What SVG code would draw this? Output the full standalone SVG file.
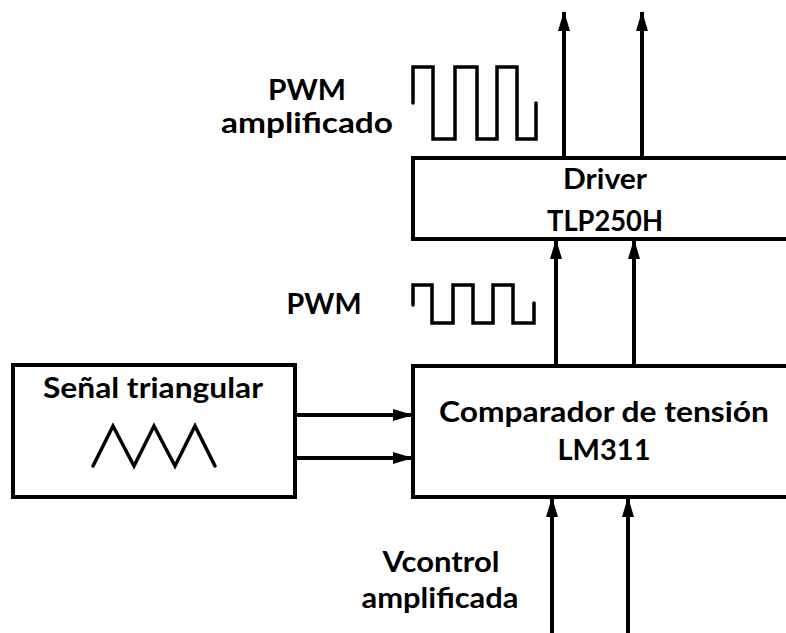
<svg xmlns="http://www.w3.org/2000/svg" width="786" height="633" viewBox="0 0 786 633">
<defs>
<marker id="ah" markerUnits="userSpaceOnUse" markerWidth="20" markerHeight="12" refX="19" refY="6" orient="auto">
<path d="M0,0 L20,6 L0,12 z" fill="#000"/>
</marker>
</defs>
<style>
.box{fill:#fff;stroke:#000;stroke-width:4}
.t{font-family:Lato,"Open Sans","Liberation Sans",sans-serif;font-weight:bold;font-size:29px;fill:#000;text-anchor:middle}
.w{fill:none;stroke:#000;stroke-width:3.5;stroke-linejoin:miter;stroke-linecap:round}
.c{fill:none;stroke:#000;stroke-width:4;marker-end:url(#ah)}
</style>
<rect width="786" height="633" fill="#fff"/>
<g id="driver">
<rect class="box" x="413" y="158" width="390" height="81"/>
<text class="t" x="605" y="189" textLength="84" lengthAdjust="spacingAndGlyphs">Driver</text>
<text class="t" x="605" y="231" textLength="116" lengthAdjust="spacingAndGlyphs">TLP250H</text>
</g>
<g id="comparador">
<rect class="box" x="413" y="366" width="390" height="131"/>
<text class="t" x="604" y="422" textLength="330" lengthAdjust="spacingAndGlyphs">Comparador de tensión</text>
<text class="t" x="604" y="460" textLength="93" lengthAdjust="spacingAndGlyphs">LM311</text>
</g>
<g id="triangular">
<rect class="box" x="13" y="365" width="282" height="132"/>
<text class="t" x="153" y="398" textLength="220" lengthAdjust="spacingAndGlyphs">Señal triangular</text>
<polyline class="w" points="93,466 113,426 134,466 154,426 175,466 195,426 215,466"/>
</g>
<g id="pwm-amplificado">
<text class="t" x="307" y="100" textLength="78" lengthAdjust="spacingAndGlyphs">PWM</text>
<text class="t" x="307" y="133" textLength="172" lengthAdjust="spacingAndGlyphs">amplificado</text>
<polyline class="w" points="413,103 413,67 433,67 433,139 455,139 455,67 477,67 477,139 497,139 497,67 517,67 517,139 536,139 536,103"/>
</g>
<g id="pwm">
<text class="t" x="324" y="314" textLength="75" lengthAdjust="spacingAndGlyphs">PWM</text>
<polyline class="w" points="413,305 413,285 432,285 432,323 453,323 453,285 473,285 473,323 493,323 493,285 513,285 513,323 534,323 534,303"/>
</g>
<g id="vcontrol">
<text class="t" x="441" y="572" textLength="117" lengthAdjust="spacingAndGlyphs">Vcontrol</text>
<text class="t" x="440" y="608" textLength="157" lengthAdjust="spacingAndGlyphs">amplificada</text>
</g>
<g id="connectors">
<line class="c" x1="564" y1="158" x2="564" y2="12"/>
<line class="c" x1="642" y1="158" x2="642" y2="12"/>
<line class="c" x1="556" y1="366" x2="556" y2="240"/>
<line class="c" x1="634" y1="366" x2="634" y2="240"/>
<line class="c" x1="295" y1="415" x2="412" y2="415"/>
<line class="c" x1="295" y1="458" x2="412" y2="458"/>
<line class="c" x1="552" y1="633" x2="552" y2="498"/>
<line class="c" x1="628" y1="633" x2="628" y2="498"/>
</g>
</svg>
